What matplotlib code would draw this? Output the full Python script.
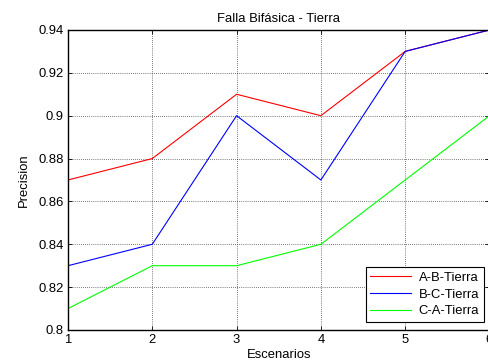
import matplotlib
matplotlib.use("Agg")
import matplotlib.pyplot as plt
from matplotlib.ticker import FuncFormatter

plt.rcParams['font.family'] = ['Liberation Sans', 'DejaVu Sans']

escenarios = [1, 2, 3, 4, 5, 6]
ab_tierra = [0.87, 0.88, 0.91, 0.90, 0.93, 0.94]
bc_tierra = [0.83, 0.84, 0.90, 0.87, 0.93, 0.94]
ca_tierra = [0.81, 0.83, 0.83, 0.84, 0.87, 0.90]
y_ticks = [0.80, 0.82, 0.84, 0.86, 0.88, 0.90, 0.92, 0.94]

FS = 9.4

fig = plt.figure(figsize=(4.89, 3.62), dpi=100)
ax = fig.add_axes([0.139, 0.0884, 0.862, 0.8288])

ax.plot(escenarios, ab_tierra, color=(1, 0, 0), lw=0.8, label='A-B-Tierra')
ax.plot(escenarios, bc_tierra, color=(0, 0, 1), lw=0.8, label='B-C-Tierra')
ax.plot(escenarios, ca_tierra, color=(0, 1, 0), lw=0.8, label='C-A-Tierra')

ax.set_xlim(1, 6)
ax.set_ylim(0.80, 0.94)
ax.set_xticks(escenarios)
ax.set_yticks(y_ticks)
ax.yaxis.set_major_formatter(FuncFormatter(lambda v, p: f"{v:g}"))
ax.grid(True, color='black', linestyle=(0, (1, 2)), linewidth=0.5)
ax.tick_params(direction='in', top=True, right=True, length=3, width=0.6,
               labelsize=FS, pad=3)
for s in ax.spines.values():
    s.set_linewidth(1.0)

ax.set_title('Falla Bifásica - Tierra', fontsize=FS, pad=6)
ax.set_xlabel('Escenarios', fontsize=FS, labelpad=2)
ax.set_ylabel('Precision', fontsize=FS, labelpad=6)

leg = ax.legend(loc='lower right', fontsize=FS, fancybox=False, framealpha=1,
                edgecolor='black', handlelength=3.1, handletextpad=0.6,
                labelspacing=0.35, borderpad=0.35, borderaxespad=0,
                bbox_to_anchor=(0.986, 0.027))
leg.get_frame().set_linewidth(0.8)

fig.savefig('out.png', dpi=100)
